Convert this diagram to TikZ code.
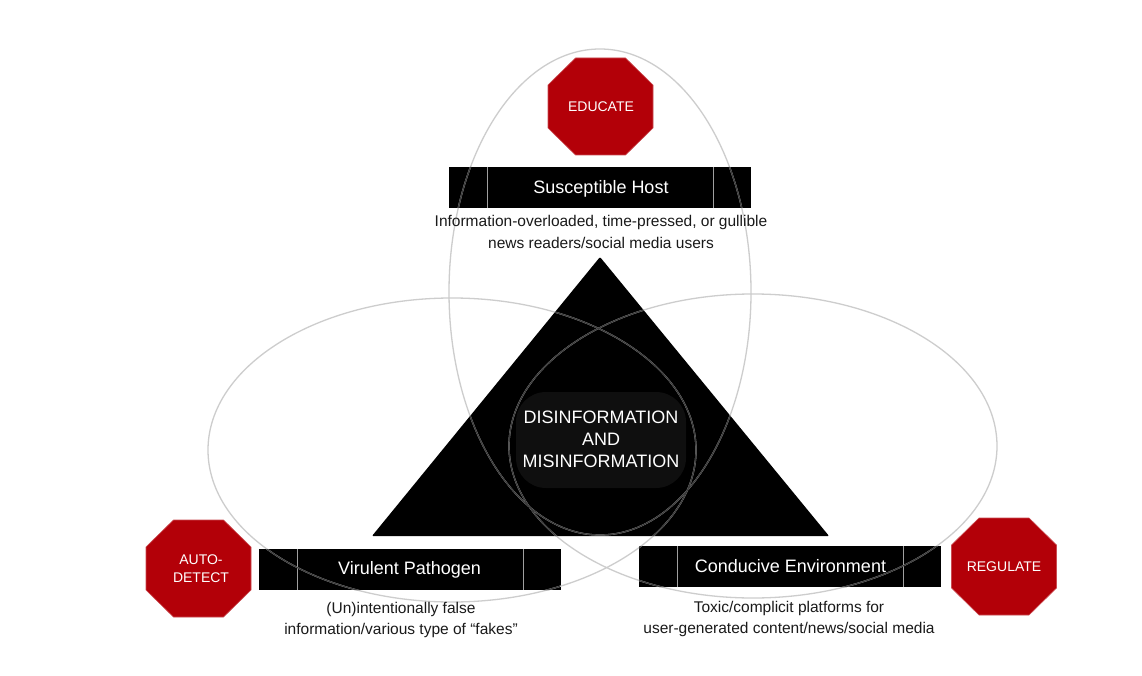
\documentclass[tikz,border=0pt]{standalone}
\usepackage{fontspec}
\setmainfont{Liberation Sans}
\definecolor{stopred}{HTML}{B30008}
\definecolor{ringlight}{HTML}{CDCDCD}
\definecolor{ringdark}{HTML}{3C3C3C}
\definecolor{glow}{HTML}{0F0F0F}
\definecolor{inkdark}{HTML}{1A1A1A}
\newcommand{\octagon}[2]{%
  \fill[stopred,draw=stopred!70!white,line width=0.6pt,line join=round]
    (#1-52.5,#2-21.5) -- (#1-25,#2-48.5) -- (#1+25,#2-48.5) -- (#1+52.5,#2-21.5)
    -- (#1+52.5,#2+21.5) -- (#1+25,#2+48.5) -- (#1-25,#2+48.5) -- (#1-52.5,#2+21.5) -- cycle;}
\newcommand{\blackbar}[2]{%
  \fill[black] (#1,#2) rectangle (#1+302,#2+41);
  \draw[gray!75,line width=0.9pt] (#1+38,#2) -- (#1+38,#2+41) (#1+264,#2) -- (#1+264,#2+41);}
\newcommand{\darkzones}{%
  (600,257) -- (829,536) -- (372,536) -- cycle
  (449,167) rectangle (751,208)
  (259,549) rectangle (560,590)
  (639,546) rectangle (941,587)}
\newcommand{\rings}{%
  (600,292) ellipse [x radius=151,y radius=243]
  (452,450) ellipse [x radius=244,y radius=152]
  (753,446) ellipse [x radius=244,y radius=152]}
\tikzset{
  x=1pt,y=-1pt,
  bartext/.style={text=white,font=\fontsize{18}{18}\selectfont,inner sep=0pt},
  caption/.style={text=inkdark,font=\fontsize{15.5}{21.5}\selectfont,align=center,inner sep=0pt},
  stoptext/.style={text=white,font=\fontsize{14}{18}\selectfont,align=center,inner sep=0pt},
  coretext/.style={text=white,font=\fontsize{18}{22}\selectfont,align=center,inner sep=0pt},
  ring/.style={line width=1.3pt}
}
\begin{document}
\begin{tikzpicture}
\useasboundingbox (0,0) rectangle (1142,676);
\fill[white] (0,0) rectangle (1142,676);
% triangle
\fill[black,rounded corners=1pt] (600,257) -- (829,536) -- (372,536) -- cycle;
\fill[glow,rounded corners=30pt] (516,392) rectangle (686,488);
% bars
\blackbar{449}{167}
\blackbar{259}{549}
\blackbar{639}{546}
% rings
\draw[ringlight,ring] \rings;
\begin{scope}
  \clip \darkzones;
  \draw[ringdark,ring] \rings;
\end{scope}
% stop signs
\octagon{600.5}{106.5}
\octagon{198.5}{568.5}
\octagon{1004}{566.5}
% texts
\node[stoptext] (educate) at (601,107) {EDUCATE};
\node[stoptext] (autodetect) at (201,569) {AUTO-\\DETECT};
\node[stoptext] (regulate) at (1004,566.5) {REGULATE};
\node[bartext] (host) at (601,188.5) {Susceptible Host};
\node[bartext] (pathogen) at (409.5,569.5) {Virulent Pathogen};
\node[bartext] (environment) at (790.5,566) {Conducive Environment};
\node[caption] (hostcap) at (601,232) {Information-overloaded, time-pressed, or gullible\\news readers/social media users};
\node[caption] (pathcap) at (401,620) {(Un)intentionally false\\information/various type of “fakes”};
\node[caption] (envcap) at (789,619) {Toxic/complicit platforms for\\user-generated content/news/social media};
\node[coretext] (core) at (601,439.5) {DISINFORMATION\\AND\\MISINFORMATION};
\end{tikzpicture}
\end{document}
